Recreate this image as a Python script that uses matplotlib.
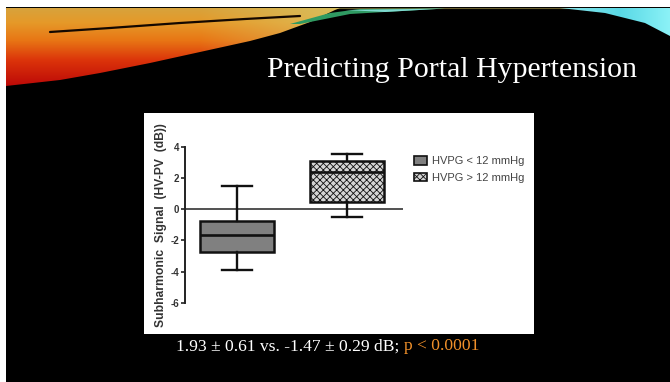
import numpy as np
import matplotlib
matplotlib.use("Agg")
import matplotlib.pyplot as plt
from matplotlib.patches import Polygon, Rectangle, Patch

# box plot values (dB)
groups = ["HVPG < 12 mmHg", "HVPG > 12 mmHg"]
q1 = [-2.78, 0.47]
q3 = [-0.77, 3.08]
medians = [-1.67, 2.35]
whis_lo = [-3.91, -0.49]
whis_hi = [1.47, 3.50]
yticks = [4, 2, 0, -2, -4, -6]

title = "Predicting Portal Hypertension"
stats_text = "1.93 \u00b1 0.61 vs. -1.47 \u00b1 0.29 dB; "
p_text = "p < 0.0001"

W, H = 670, 382
plt.rcParams['axes.unicode_minus'] = False
plt.rcParams['hatch.color'] = "#555555"
plt.rcParams['hatch.linewidth'] = 0.6

fig = plt.figure(figsize=(W / 100, H / 100), dpi=100)
fig.patch.set_facecolor("white")

# background axes in pixel coordinates
bg = fig.add_axes([0, 0, 1, 1])
bg.set_xlim(0, W)
bg.set_ylim(H, 0)
bg.axis("off")
bg.add_patch(Rectangle((6, 7), W - 6, H - 7, facecolor="black", edgecolor="none"))
bg.plot([6, W], [7.5, 7.5], color="#6b6030", lw=0.8)


def lerp_stops(v, stops):
    pos = np.array([s[0] for s in stops])
    cols = np.array([s[1] for s in stops])
    return np.stack([np.interp(v, pos, cols[:, c]) for c in range(3)], axis=-1)


# orange swoosh, top left
ys, xs = np.mgrid[0:100, 0:345]
col = lerp_stops(ys, [(7, (0.84, 0.64, 0.24)), (22, (0.90, 0.60, 0.16)),
                      (40, (0.91, 0.46, 0.08)), (60, (0.86, 0.20, 0.04)),
                      (85, (0.74, 0.04, 0.03))])
fade = np.clip((xs - 200) / 140.0, 0, 1)[..., None]
col = col * (1 - 0.6 * fade) + np.array([0.85, 0.82, 0.45]) * 0.6 * fade
img = bg.imshow(col, extent=(0, 345, 100, 0), interpolation="bilinear", zorder=2)
swoosh = [(6, 8), (340, 8), (335, 10), (310, 22), (280, 33), (250, 41), (200, 52),
          (150, 63), (100, 73), (60, 80), (6, 86)]
clip = Polygon(swoosh, closed=True, transform=bg.transData, facecolor="none", edgecolor="none")
bg.add_patch(clip)
img.set_clip_path(clip)
bg.plot([50, 110, 180, 245, 300], [32, 28, 23, 19, 16], color="#140800", lw=1.6,
        solid_capstyle="round", zorder=3)

# green streak
bg.add_patch(Polygon([(290, 24), (330, 13), (360, 9), (445, 8.5), (350, 14), (300, 24)],
                     closed=True, facecolor="#2f9a62", edgecolor="none", zorder=3))
bg.add_patch(Polygon([(345, 10), (445, 8.5), (385, 12)], closed=True,
                     facecolor="#7fd9d0", edgecolor="none", zorder=3))

# teal swoosh, top right
ys2, xs2 = np.mgrid[0:40, 0:110]
col2 = lerp_stops(xs2, [(0, (0.55, 0.90, 0.92)), (60, (0.35, 0.85, 0.90)),
                        (110, (0.55, 0.95, 0.97))])
img2 = bg.imshow(col2, extent=(560, 670, 40, 0), interpolation="bilinear", zorder=2)
clip2 = Polygon([(560, 8), (670, 8), (670, 36), (645, 23), (605, 13)], closed=True,
                transform=bg.transData, facecolor="none", edgecolor="none")
bg.add_patch(clip2)
img2.set_clip_path(clip2)

# title
bg.text(637, 77, title, color="white", fontsize=21.5, family="Liberation Serif",
        ha="right", va="baseline")

# white chart panel
bg.add_patch(Rectangle((144, 113), 390, 221, facecolor="white", edgecolor="none", zorder=1))

# box plot axes
left, right, top, bottom = 185, 403, 146.7, 302.7
ax = fig.add_axes([left / W, 1 - bottom / H, (right - left) / W, (bottom - top) / H])
ax.patch.set_alpha(0)

stats = []
for i, g in enumerate(groups):
    stats.append(dict(label=g, med=medians[i], q1=q1[i], q3=q3[i],
                      whislo=whis_lo[i], whishi=whis_hi[i], fliers=[]))

bp = ax.bxp(stats, positions=[1, 2], widths=0.68, patch_artist=True,
            boxprops=dict(linewidth=1.8, edgecolor="#111111"),
            medianprops=dict(color="#111111", linewidth=1.9),
            whiskerprops=dict(color="#111111", linewidth=1.7),
            capprops=dict(color="#111111", linewidth=1.7),
            capwidths=0.27)
bp["boxes"][0].set_facecolor("#808080")
bp["boxes"][1].set_facecolor("#d4d4d4")
bp["boxes"][1].set_hatch("xxxxx")

ax.axhline(0, color="#222222", lw=1.1, zorder=0)
ax.set_xlim(0.527, 2.509)
ax.set_ylim(-6, 4)
ax.set_yticks(yticks)
ax.set_yticklabels([str(t) for t in yticks], fontsize=7, fontweight="bold",
                   family="Liberation Sans", color="#333333")
ax.tick_params(axis="y", length=3, width=1.2, color="#222222", pad=1)
ax.set_xticks([])
for s in ["top", "right", "bottom"]:
    ax.spines[s].set_visible(False)
ax.spines["left"].set_linewidth(1.4)
ax.spines["left"].set_color("#222222")
ax.set_ylabel("Subharmonic  Signal  (HV-PV  (dB))", fontsize=8.7, fontweight="bold",
              family="Liberation Sans", color="#333333", labelpad=3)

handles = [Patch(facecolor="#808080", edgecolor="#111111", lw=1.2),
           Patch(facecolor="#d4d4d4", edgecolor="#111111", lw=1.2, hatch="xxxxx")]
fig.legend(handles, groups, loc="upper left", bbox_to_anchor=(414 / W, 1 - 156 / H),
           frameon=False, prop=dict(family="Liberation Sans", size=8),
           labelcolor="#444444", handlelength=1.2, handleheight=0.8,
           handletextpad=0.45, labelspacing=0.6, borderaxespad=0, borderpad=0)

# bottom stats line, two colours on one baseline
t1 = bg.text(176, 350.5, stats_text, color="white", fontsize=12.6,
             family="Liberation Serif", ha="left", va="baseline")
fig.canvas.draw()
x_end = bg.transData.inverted().transform(t1.get_window_extent().get_points())[1][0]
bg.text(x_end, 350.5, p_text, color="#f0902a", fontsize=12.6,
        family="Liberation Serif", ha="left", va="baseline")

fig.savefig("out.png", dpi=100, facecolor=fig.get_facecolor())
